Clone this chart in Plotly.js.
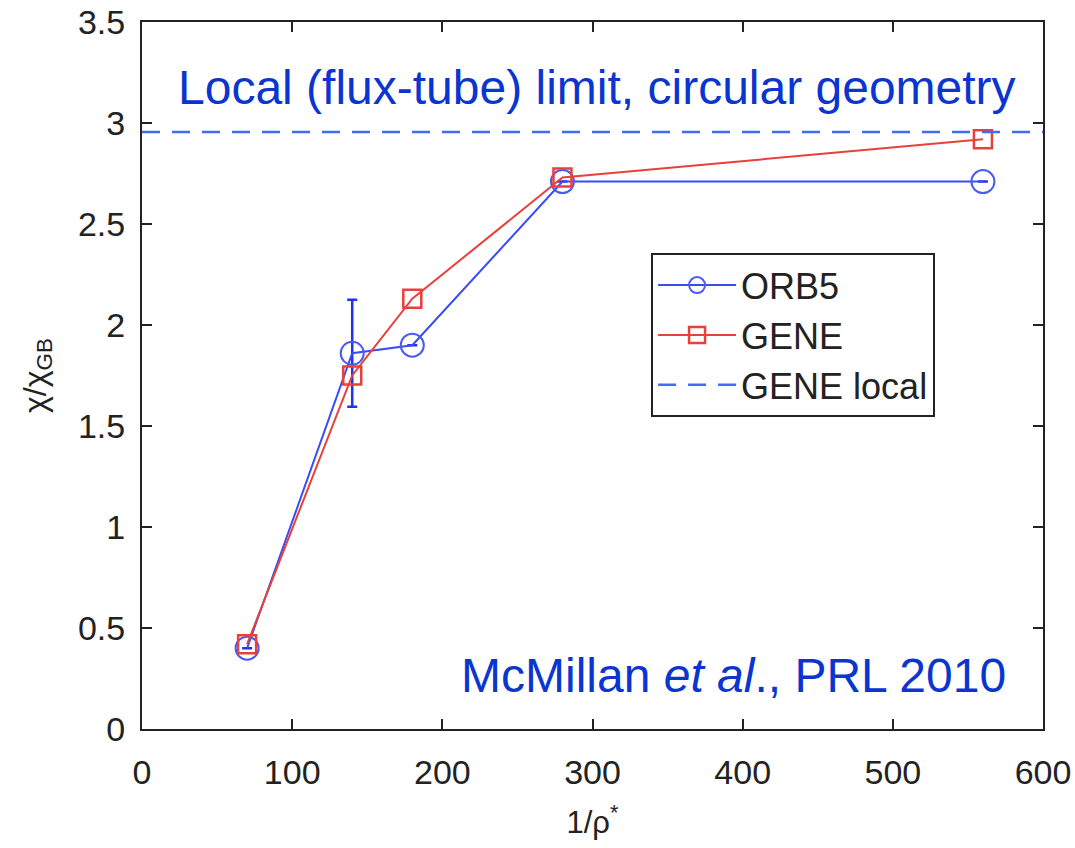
<!DOCTYPE html>
<html>
<head>
<meta charset="utf-8">
<script src="https://cdn.plot.ly/plotly-3.0.1.min.js"></script>
<style>html,body{margin:0;padding:0;background:#fff;}#chart{width:1075px;height:848px;}</style>
</head>
<body>
<div id="chart"></div>
<script>
const invRho = [70, 140, 180, 280, 560];
const orb5 = [0.40, 1.86, 1.90, 2.71, 2.71];
const orb5Err = [null, 0.265, null, null, null];
const gene = [0.42, 1.75, 2.13, 2.73, 2.92];
const geneLocal = 2.955;
const xTicks = [0, 100, 200, 300, 400, 500, 600];
const yTicks = [0, 0.5, 1, 1.5, 2, 2.5, 3, 3.5];
const yTickText = ['0', '0.5', '1', '1.5', '2', '2.5', '3', '3.5'];

const traces = [
  {
    x: invRho, y: orb5, name: 'ORB5', type: 'scatter', mode: 'lines+markers',
    line: {color: '#3a4cf5', width: 2},
    marker: {symbol: 'circle-open', size: 23, color: '#4a5af5', line: {width: 2}},
    error_y: {type: 'data', array: orb5Err, visible: true, color: '#2233ee', thickness: 2.5, width: 5}
  },
  {
    x: invRho, y: gene, name: 'GENE', type: 'scatter', mode: 'lines+markers',
    line: {color: '#e8403a', width: 2},
    marker: {symbol: 'square-open', size: 18, color: '#e8403a', line: {width: 2.5}}
  },
  {
    x: [0, 600], y: [geneLocal, geneLocal], name: 'GENE local', type: 'scatter', mode: 'lines',
    line: {color: '#3f6cf5', width: 2.5, dash: '18px,12px'}
  }
];

const layout = {
  width: 1075, height: 848,
  margin: {l: 142, r: 32, t: 22, b: 119},
  paper_bgcolor: '#fff', plot_bgcolor: '#fff',
  font: {family: 'Liberation Sans, Arial, sans-serif', color: '#222', size: 34},
  showlegend: true,
  legend: {
    x: 0.565, y: 0.673, xanchor: 'left', yanchor: 'top',
    bgcolor: '#fff', bordercolor: '#222', borderwidth: 2,
    font: {size: 36, color: '#222'}, itemwidth: 78, tracegroupgap: 0
  },
  xaxis: {
    range: [0, 600], tickvals: xTicks, ticktext: xTicks.map(String),
    ticks: 'inside', ticklen: 10, tickwidth: 2, tickcolor: '#222',
    showline: true, linecolor: '#222', linewidth: 2, mirror: 'ticks',
    showgrid: false, zeroline: false, ticklabelstandoff: 12,
    tickfont: {size: 34, color: '#222'},
    title: {text: '1/ρ<sup>*</sup>', font: {size: 31, color: '#222'}, standoff: 22}
  },
  yaxis: {
    range: [0, 3.5], tickvals: yTicks, ticktext: yTickText,
    ticks: 'inside', ticklen: 10, tickwidth: 2, tickcolor: '#222',
    showline: true, linecolor: '#222', linewidth: 2, mirror: 'ticks',
    showgrid: false, zeroline: false, ticklabelstandoff: 8,
    tickfont: {size: 34, color: '#222'},
    title: {text: 'χ/χ<sub>GB</sub>', font: {size: 32, color: '#222'}, standoff: 22}
  },
  annotations: [
    {
      xref: 'paper', yref: 'paper', x: 0.505, y: 0.908, xanchor: 'center', yanchor: 'middle',
      text: 'Local (flux-tube) limit, circular geometry', showarrow: false,
      font: {size: 48, color: '#0b35d0', family: 'Liberation Sans, Arial, sans-serif'}
    },
    {
      xref: 'paper', yref: 'paper', x: 0.961, y: 0.075, xanchor: 'right', yanchor: 'middle',
      text: 'McMillan <i>et al</i>., PRL 2010', showarrow: false,
      font: {size: 48, color: '#0b35d0', family: 'Liberation Sans, Arial, sans-serif'}
    }
  ]
};

Plotly.newPlot('chart', traces, layout, {displayModeBar: false, staticPlot: true});
</script>
</body>
</html>
